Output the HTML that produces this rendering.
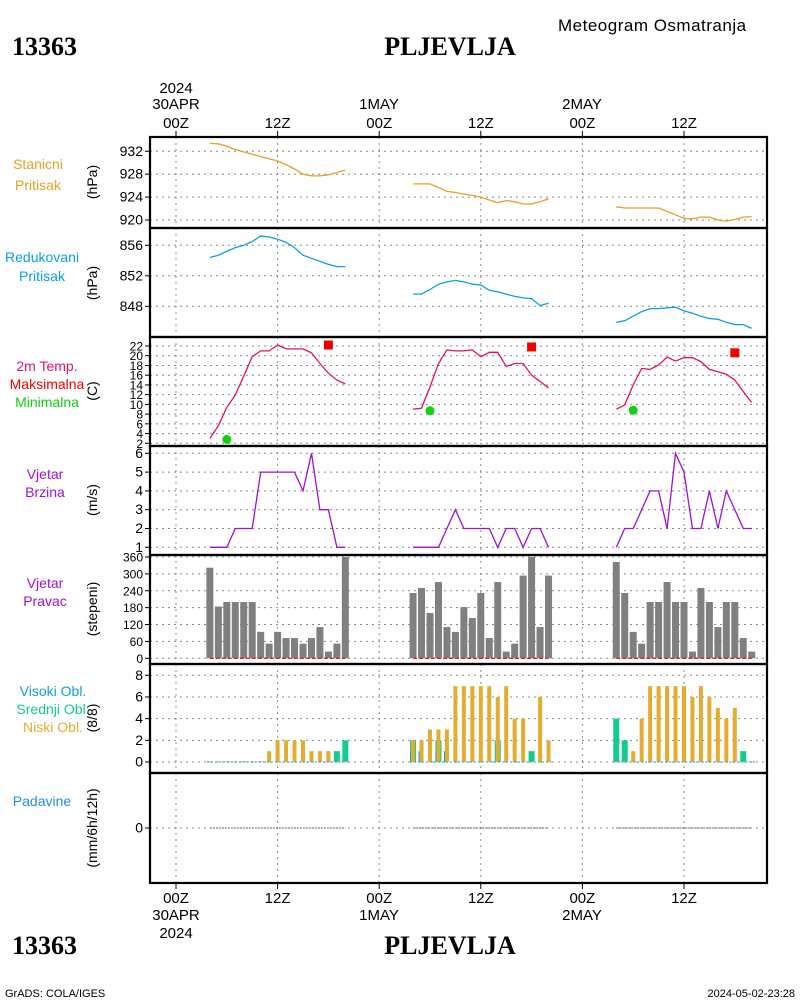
<!DOCTYPE html>
<html><head><meta charset="utf-8"><style>
html,body{margin:0;padding:0;background:#fff;width:800px;height:1000px;overflow:hidden}
svg{display:block}
text{font-family:"Liberation Sans",sans-serif}
</style></head><body>
<svg id="chart" width="800" height="1000" viewBox="0 0 800 1000" xmlns="http://www.w3.org/2000/svg">
<text x="12" y="55" font-family="Liberation Serif" font-weight="bold" font-size="26" style="font-family:'Liberation Serif',serif">13363</text>
<text x="450" y="55" text-anchor="middle" font-weight="bold" font-size="26" style="font-family:'Liberation Serif',serif">PLJEVLJA</text>
<text x="558" y="31" font-size="17" letter-spacing="0.5">Meteogram Osmatranja</text>
<text x="12" y="954" font-weight="bold" font-size="26" style="font-family:'Liberation Serif',serif">13363</text>
<text x="450" y="954" text-anchor="middle" font-weight="bold" font-size="26" style="font-family:'Liberation Serif',serif">PLJEVLJA</text>
<text x="5" y="997" font-size="11">GrADS: COLA/IGES</text>
<text x="795" y="997" text-anchor="end" font-size="11">2024-05-02-23:28</text>
<g id="labels"></g>
<g id="plot"></g>
</svg>
<script>
// hours since 00Z 30APR for each day segment
const hoursDay1 = [4,5,6,7,8,9,10,11,12,13,14,15,16,17,18,19,20];
const stationP1 = [933.4,933.3,932.9,932.3,931.9,931.5,931.1,930.7,930.3,929.7,928.9,928.0,927.7,927.7,927.9,928.3,928.7];
const stationP2 = [926.3,926.3,926.3,925.7,925.0,924.8,924.5,924.3,924.0,923.5,923.0,923.4,923.2,922.8,922.8,923.2,923.7];
const stationP3 = [922.3,922.1,922.1,922.1,922.1,922.1,921.5,920.9,920.3,920.2,920.5,920.5,920.0,919.8,920.1,920.5,920.6];
const seaP1 = [854.4,854.7,855.2,855.7,856.0,856.5,857.2,857.1,856.8,856.4,855.7,854.7,854.3,853.9,853.5,853.2,853.2];
const seaP2 = [849.6,849.6,850.2,850.9,851.2,851.4,851.2,850.9,850.8,850.1,849.9,849.6,849.3,849.1,849.0,848.1,848.4];
const seaP3 = [845.9,846.1,846.7,847.3,847.7,847.7,847.8,847.9,847.4,847.1,846.7,846.4,846.3,845.9,845.6,845.6,845.1];
const temp1 = [3.0,5.6,9.4,11.9,15.8,19.8,21.0,21.0,22.2,21.4,21.4,21.4,20.6,18.4,16.4,15.0,14.2];
const temp2 = [9.0,9.2,13.6,18.4,21.2,21.0,21.0,21.2,19.8,20.7,20.7,17.8,18.4,18.4,16.0,14.7,13.4];
const temp3 = [9.0,9.9,14.0,17.4,17.2,18.1,19.7,18.9,19.6,19.6,18.8,17.2,16.7,16.2,15.0,12.6,10.4];
const maxHours = [18,42,66];
const maxTemps = [22.2,21.8,20.6];
const minHours = [6,30,54];
const minTemps = [2.8,8.7,8.8];
const wind1 = [1,1,1,2,2,2,5,5,5,5,5,4,6,3,3,1,1];
const wind2 = [1,1,1,1,2,3,2,2,2,2,1,2,2,1,2,2,1];
const wind3 = [1,2,2,3,4,4,2,6,5,2,2,4,2,4,3,2,2];
const dir1 = [322,184,200,200,200,200,94,52,94,72,72,52,72,111,24,52,360];
const dir2 = [232,250,161,271,111,94,182,143,232,72,271,24,52,294,360,111,294];
const dir3 = [342,232,94,52,200,200,271,200,200,24,250,200,111,200,200,72,24];
const low1 = [0,0,0,0,0,0,0,1,2,2,2,2,1,1,1,0,0];
const mid1 = [0,0,0,0,0,0,0,0,0,0,0,0,0,0,0,1,2];
const high1 = [0,0,0,0,0,0,0,0,0,0,0,0,0,0,0,0,0];
const low2 = [2,2,3,3,3,7,7,7,7,7,6,7,4,4,0,6,2];
const mid2 = [2,0,0,2,0,0,0,0,0,0,2,0,0,0,1,0,0];
const high2 = [1,1,0,1,1,0,0,0,0,0,0,0,0,0,0,0,0];
const low3 = [0,0,1,4,7,7,7,7,7,6,7,6,5,4,5,0,0];
const mid3 = [4,2,0,0,0,0,0,0,0,0,0,0,0,0,0,1,0];
const high3 = [0,0,0,0,0,0,0,0,0,0,0,0,0,0,0,0,0];
const precip1 = [0,0,0,0,0,0,0,0,0,0,0,0,0,0,0,0,0];
const pTicks1 = [920,924,928,932];
const pTicks2 = [848,852,856];
const tTicks = [2,4,6,8,10,12,14,16,18,20,22];
const wTicks = [1,2,3,4,5,6];
const dTicks = [0,60,120,180,240,300,360];
const cTicks = [0,2,4,6,8];
const timeTicks = [0,12,24,36,48,60];
const timeLabels = ["00Z","12Z","00Z","12Z","00Z","12Z"];

const NS="http://www.w3.org/2000/svg";
const plot=document.getElementById('plot');
const labels=document.getElementById('labels');
const X0=176, HPX=(684-176)/60, L=150, R=767;
const xs=h=>X0+h*HPX;
function el(tag,attrs,parent){const e=document.createElementNS(NS,tag);for(const k in attrs)e.setAttribute(k,attrs[k]);(parent||plot).appendChild(e);return e;}
function lin(d0,d1,p0,p1){return v=>p0+(v-d0)*(p1-p0)/(d1-d0);}
const shift=d=>hoursDay1.map(h=>h+24*d);

const panels=[
 {top:137,bot:228,y:lin(932,920,151.3,220),ticks:pTicks1,name:'station-pressure'},
 {top:228,bot:337,y:lin(856,848,245.3,306.3),ticks:pTicks2,name:'reduced-pressure'},
 {top:337,bot:446,y:lin(22,2,346,443.3),ticks:tTicks,name:'temperature',fs:12},
 {top:446,bot:555,y:lin(6,1,453.3,547.3),ticks:wTicks,name:'wind-speed'},
 {top:555,bot:664,y:lin(360,0,557,658.3),ticks:dTicks,name:'wind-direction',fs:12},
 {top:664,bot:773,y:lin(8,0,675.3,762),ticks:cTicks,name:'cloud-cover'},
 {top:773,bot:883,y:lin(1,0,790,828),ticks:[0],name:'precipitation'}
];
panels.forEach(p=>{
  timeTicks.forEach(h=>{
    const g=el('line',{x1:xs(h),x2:xs(h),y1:p.top,y2:p.bot,stroke:'#888','stroke-dasharray':'2,4','stroke-width':1});
    
    
  });
  p.ticks.forEach(t=>{
    const y=p.y(t);
    const g=el('line',{x1:L,x2:R,y1:y,y2:y,stroke:'#888','stroke-dasharray':'2,4','stroke-width':1});
    
    
    const tk=el('line',{x1:L-5,x2:L,y1:y,y2:y,stroke:'#000'});
    
    
    const tx=el('text',{x:L-7,y:y+4.5,'text-anchor':'end','font-size':p.fs||14});
    tx.textContent=t;
    
    
  });
});
function line(hours,vals,yf,color,name){
  const pts=hours.map((h,i)=>xs(h).toFixed(1)+','+yf(vals[i]).toFixed(1)).join(' ');
  const e=el('polyline',{points:pts,fill:'none',stroke:color,'stroke-width':1.3});
  
  
}
const P=panels;
[[stationP1,0],[stationP2,1],[stationP3,2]].forEach(([v,d])=>line(shift(d),v,P[0].y,'#e6a024','station-pressure-line'));
[[seaP1,0],[seaP2,1],[seaP3,2]].forEach(([v,d])=>line(shift(d),v,P[1].y,'#0aa0e0','reduced-pressure-line'));
[[temp1,0],[temp2,1],[temp3,2]].forEach(([v,d])=>line(shift(d),v,P[2].y,'#e0106a','temperature-line'));
maxHours.forEach((h,i)=>{const r=el('rect',{x:xs(h)-4.5,y:P[2].y(maxTemps[i])-4.5,width:9,height:9,fill:'#f00000'});
  
  });
minHours.forEach((h,i)=>{const c=el('circle',{cx:xs(h),cy:P[2].y(minTemps[i]),r:4.5,fill:'#10d010'});
  
  });
[[wind1,0],[wind2,1],[wind3,2]].forEach(([v,d])=>line(shift(d),v,P[3].y,'#a010d0','wind-speed-line'));
[[dir1,0],[dir2,1],[dir3,2]].forEach(([v,d])=>{
  shift(d).forEach((h,i)=>{const y=P[4].y(dir1===v?v[i]:v[i]);
    const b=el('rect',{x:xs(h)-3.5,y:y,width:7,height:P[4].y(0)-y,fill:'#808080'});
    
    });
  const hs=shift(d);
  const dl=el('line',{x1:xs(hs[0]),x2:xs(hs[hs.length-1]),y1:P[4].y(0),y2:P[4].y(0),stroke:'#f00000','stroke-dasharray':'4,2','stroke-width':1.2});
  
  
});
[[low1,mid1,high1,0],[low2,mid2,high2,1],[low3,mid3,high3,2]].forEach(([lo,mi,hi,d])=>{
  const y0=P[5].y(0);
  shift(d).forEach((h,i)=>{const x=xs(h);
    if(mi[i]>0){const b=el('rect',{x:x-3,y:P[5].y(mi[i]),width:6,height:y0-P[5].y(mi[i]),fill:'#10cc90'});
      
      }
    if(hi[i]>0){const b=el('rect',{x:x-3,y:P[5].y(hi[i]),width:3,height:y0-P[5].y(hi[i]),fill:'#10a0d0'});
      
      }
    const lh=Math.max(y0-P[5].y(lo[i]),0.8);
    const b=el('rect',{x:x-2,y:y0-lh,width:4,height:lh,fill:'#e6ac30'});
    
    
  });
  const hs=shift(d);
  const bl=el('line',{x1:xs(hs[0])-3,x2:xs(hs[hs.length-1])+3,y1:y0,y2:y0,stroke:'#10a0d0','stroke-dasharray':'2,2','stroke-width':1});
  
  
});
[0,1,2].forEach(d=>{const hs=shift(d);
  const pl=el('line',{x1:xs(hs[0]),x2:xs(hs[hs.length-1]),y1:P[6].y(precip1[0]),y2:P[6].y(precip1[0]),stroke:'#666','stroke-dasharray':'2,1','stroke-width':1});
  
  });
// frames
P.forEach(p=>{const f=el('rect',{x:L,y:p.top,width:R-L,height:p.bot-p.top,fill:'none',stroke:'#000','stroke-width':2.2});
  
  });
timeTicks.forEach((h,i)=>{
  const t1=el('line',{x1:xs(h),x2:xs(h),y1:131,y2:137,stroke:'#000'});
  
  
  const t2=el('line',{x1:xs(h),x2:xs(h),y1:883,y2:889,stroke:'#000'});
  
  
  const a=el('text',{x:xs(h),y:128,'text-anchor':'middle','font-size':15});
  a.textContent=timeLabels[i];
  
  
  const b=el('text',{x:xs(h),y:903,'text-anchor':'middle','font-size':15});
  b.textContent=timeLabels[i];
  
  
});
</script>
<g></g>
<script>
const texts=[
 ['top-year',176,93,'2024','#000',15,'middle'],['top-date-30apr',176,109,'30APR','#000',15,'middle'],
 ['top-date-1may',379,109,'1MAY','#000',15,'middle'],['top-date-2may',582,109,'2MAY','#000',15,'middle'],
 ['bottom-date-30apr',176,920,'30APR','#000',15,'middle'],['bottom-year',176,938,'2024','#000',15,'middle'],
 ['bottom-date-1may',379,920,'1MAY','#000',15,'middle'],['bottom-date-2may',582,920,'2MAY','#000',15,'middle'],
 ['label-stanicni',38,169,'Stanicni','#e6a024',14,'middle'],['label-pritisak-1',38,190,'Pritisak','#e6a024',14,'middle'],
 ['label-redukovani',42,262,'Redukovani','#0aa0e0',14,'middle'],['label-pritisak-2',42,281,'Pritisak','#0aa0e0',14,'middle'],
 ['label-2m-temp',47,371,'2m Temp.','#e0106a',14,'middle'],['label-maksimalna',47,389,'Maksimalna','#f00000',14,'middle'],
 ['label-minimalna',47,407,'Minimalna','#10d010',14,'middle'],
 ['label-vjetar-1',45,479,'Vjetar','#a010d0',14,'middle'],['label-brzina',45,497,'Brzina','#a010d0',14,'middle'],
 ['label-vjetar-2',45,588,'Vjetar','#a010d0',14,'middle'],['label-pravac',45,606,'Pravac','#a010d0',14,'middle'],
 ['label-visoki',53,696,'Visoki Obl.','#10a0d0',14,'middle'],['label-srednji',53,714,'Srednji Obl.','#10cc90',14,'middle'],
 ['label-niski',53,732,'Niski Obl.','#e6ac30',14,'middle'],['label-padavine',42,806,'Padavine','#2090e0',14,'middle']
];
const lg=document.getElementById('labels');
texts.forEach(t=>{const e=document.createElementNS("http://www.w3.org/2000/svg",'text');
  e.setAttribute('x',t[1]);e.setAttribute('y',t[2]);e.setAttribute('fill',t[4]);e.setAttribute('font-size',t[5]);e.setAttribute('text-anchor',t[6]);
  e.textContent=t[3];
  
  
  lg.appendChild(e);});
const units=[['unit-hpa-1',182,'(hPa)'],['unit-hpa-2',283,'(hPa)'],['unit-celsius',391,'(C)'],['unit-ms',500,'(m/s)'],['unit-degrees',609,'(stepeni)'],['unit-oktas',718,'(8/8)'],['unit-mm',828,'(mm/6h/12h)']];
units.forEach(u=>{const e=document.createElementNS("http://www.w3.org/2000/svg",'text');
  e.setAttribute('transform','translate(97,'+u[1]+') rotate(-90)');e.setAttribute('text-anchor','middle');e.setAttribute('font-size',14);
  e.textContent=u[2];
  
  
  lg.appendChild(e);});
</script>
</body></html>
